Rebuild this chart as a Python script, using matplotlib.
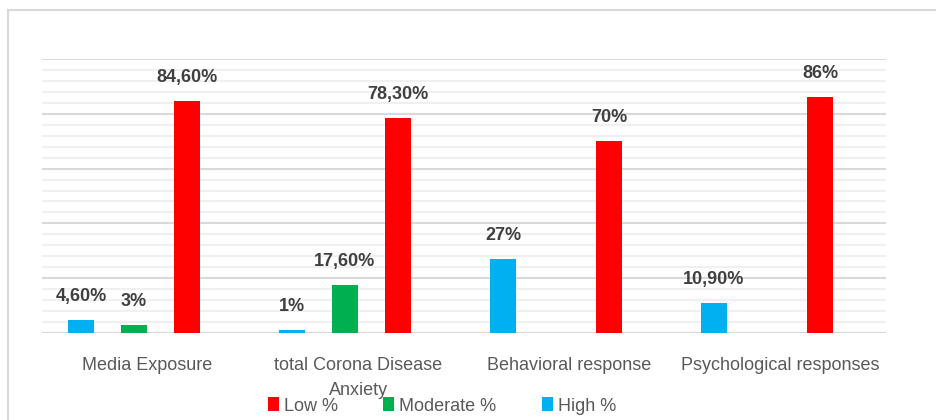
import numpy as np
import matplotlib.pyplot as plt
from matplotlib.patches import Rectangle

categories = ["Media Exposure", "total Corona Disease\nAnxiety",
              "Behavioral response", "Psychological responses"]
high = [4.6, 1.0, 27.0, 10.9]
moderate = [3.0, 17.6, np.nan, np.nan]
low = [84.6, 78.3, 70.0, 86.0]
high_lbl = ["4,60%", "1%", "27%", "10,90%"]
moderate_lbl = ["3%", "17,60%", "", ""]
low_lbl = ["84,60%", "78,30%", "70%", "86%"]

plt.rcParams['font.family'] = ['Liberation Sans Narrow', 'Liberation Sans', 'DejaVu Sans']

fig = plt.figure(figsize=(9.37, 4.2), dpi=100)
ax = fig.add_axes([42/937, 87/420, 844/937, 274/420])

# outer chart border
fig.patches.append(Rectangle((8/937, -0.1), 1.2, (420-10)/420 + 0.1,
                             transform=fig.transFigure, fill=False,
                             edgecolor="#d9d9d9", linewidth=1.5))

x = np.arange(len(categories))
w = 0.123
series = [
    (high, high_lbl, "#00b0f0", -0.315, "High %"),
    (moderate, moderate_lbl, "#00b050", -0.064, "Moderate %"),
    (low, low_lbl, "#ff0000", 0.187, "Low %"),
]
handles = {}
for vals, lbls, col, off, name in series:
    b = ax.bar(x + off, vals, width=w, color=col, zorder=3, label=name)
    handles[name] = b
    for xi, v, t in zip(x, vals, lbls):
        if np.isnan(v):
            continue
        ax.text(xi + off, v + 8.6, t, ha="center", va="center",
                fontsize=13, fontweight="bold", color="#404040")

ax.set_xlim(-0.5, len(categories) - 0.5)
ax.set_ylim(0, 100)
ax.set_yticks(np.arange(0, 101, 20))
ax.set_yticks(np.arange(0, 101, 4), minor=True)
ax.grid(axis="y", which="minor", color="#f0f0f0", linewidth=1.5, zorder=0)
ax.grid(axis="y", which="major", color="#d9d9d9", linewidth=1.5, zorder=1)
ax.tick_params(axis="y", which="both", length=0, labelleft=False)
ax.set_xticks(x)
ax.set_xticklabels(categories, fontsize=13, color="#595959", linespacing=1.65)
ax.tick_params(axis="x", length=0, pad=17)
for s in ax.spines.values():
    s.set_visible(False)
ax.axhline(0, color="#d9d9d9", linewidth=1.5, zorder=2)

fig.legend([handles["Low %"], handles["Moderate %"], handles["High %"]],
           ["Low %", "Moderate %", "High %"], loc="center",
           bbox_to_anchor=(442/937, 14/420), ncol=3, frameon=False,
           fontsize=13, labelcolor="#595959", handlelength=0.6,
           handleheight=0.8, handletextpad=0.3, columnspacing=2.5)

fig.savefig("out.png", dpi=100)
